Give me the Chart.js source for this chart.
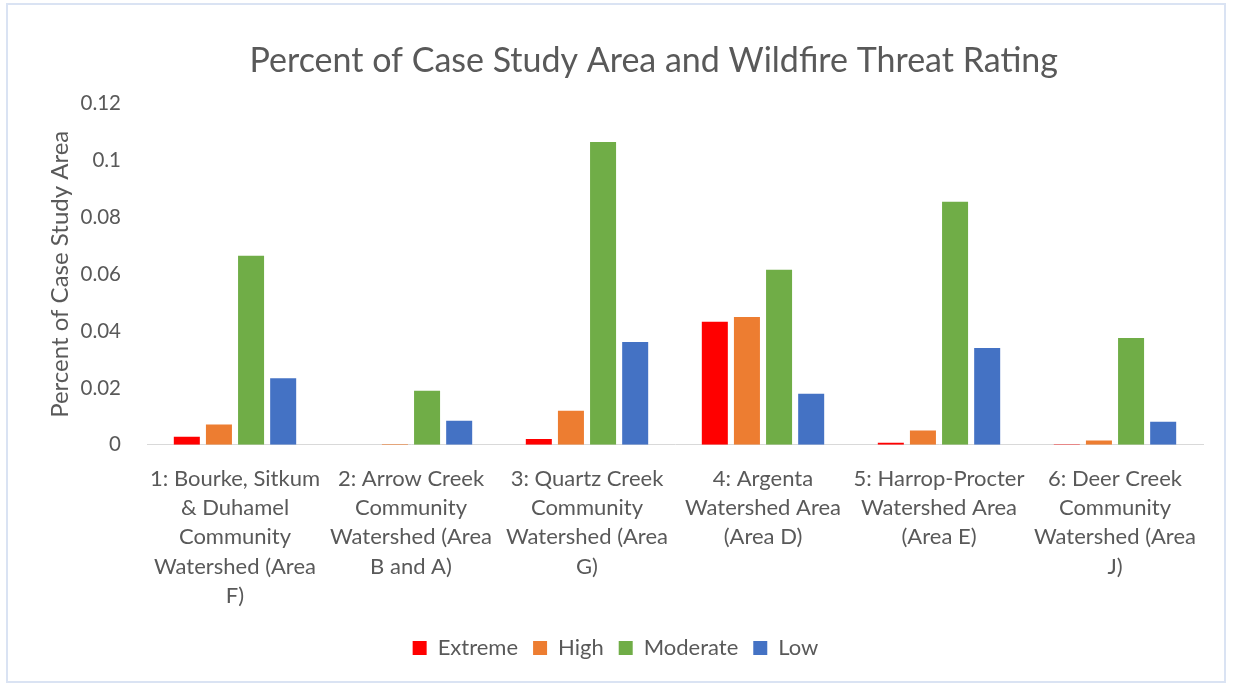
<!DOCTYPE html>
<html>
<head>
<meta charset="utf-8">
<script src="https://cdn.jsdelivr.net/npm/chart.js@4/dist/chart.umd.min.js"></script>
<style>
  html, body { margin: 0; padding: 0; background: #fff; }
  #frame {
    position: absolute; left: 6px; top: 3px;
    width: 1220px; height: 680px;
    border: 2px solid #dae3f3; box-sizing: border-box;
  }
  #wrap { position: absolute; left: 0; top: 0; right: 0; bottom: 0; }
</style>
</head>
<body>
<div id="frame"><div id="wrap"><canvas id="chart"></canvas></div></div>
<script>
// Wildfire threat rating by case study area

const categories = [
  ['1: Bourke, Sitkum', '& Duhamel', 'Community', 'Watershed (Area', 'F)'],
  ['2: Arrow Creek', 'Community', 'Watershed (Area', 'B and A)'],
  ['3: Quartz Creek', 'Community', 'Watershed (Area', 'G)'],
  ['4: Argenta', 'Watershed Area', '(Area D)'],
  ['5: Harrop-Procter', 'Watershed Area', '(Area E)'],
  ['6: Deer Creek', 'Community', 'Watershed (Area', 'J)'],
];

const extreme  = [0.0028, 0,      0.0020, 0.0433, 0.0007, 0.0002];
const high     = [0.0071, 0.0003, 0.0120, 0.0450, 0.0050, 0.0015];
const moderate = [0.0665, 0.0190, 0.1066, 0.0616, 0.0855, 0.0376];
const low      = [0.0234, 0.0085, 0.0362, 0.0180, 0.0341, 0.0081];

const yTickLabels = ['0', '0.02', '0.04', '0.06', '0.08', '0.1', '0.12'];

const textColor = '#595959';
const font = 'Lato, "Open Sans", sans-serif';

new Chart(document.getElementById('chart'), {
  type: 'bar',
  data: {
    labels: categories,
    datasets: [
      { label: 'Extreme',  data: extreme,  backgroundColor: '#ff0000' },
      { label: 'High',     data: high,     backgroundColor: '#ed7d31' },
      { label: 'Moderate', data: moderate, backgroundColor: '#70ad47' },
      { label: 'Low',      data: low,      backgroundColor: '#4472c4' },
    ]
  },
  options: {
    responsive: true,
    maintainAspectRatio: false,
    animation: false,
    datasets: { bar: { categoryPercentage: 0.73, barPercentage: 0.81 } },
    layout: { padding: { left: 20, right: 21, top: 14, bottom: 12 } },
    plugins: {
      title: {
        display: true,
        fullSize: false,
        // trailing spaces nudge the centred title left, as in the original
        text: 'Percent of Case Study Area and Wildfire Threat Rating\u2003\u2002',
        color: textColor,
        font: { family: font, size: 34, weight: 'normal' },
        padding: { top: 22, bottom: 22 }
      },
      legend: {
        position: 'bottom',
        labels: {
          color: textColor,
          font: { family: font, size: 22 },
          boxWidth: 14, boxHeight: 14, padding: 15
        }
      },
      tooltip: { enabled: false }
    },
    scales: {
      x: {
        grid: { display: false },
        border: { color: '#d9d9d9', width: 1 },
        ticks: {
          color: textColor,
          font: { family: font, size: 22, lineHeight: 1.32 },
          maxRotation: 0, autoSkip: false, padding: 12
        }
      },
      y: {
        min: 0, max: 0.12,
        grid: { display: false },
        border: { display: false },
        afterFit: (scale) => { scale.width = 119; },
        ticks: {
          stepSize: 0.02,
          color: textColor,
          font: { family: font, size: 20.5 },
          padding: 18,
          callback: (v, i) => yTickLabels[i]
        },
        title: {
          display: true,
          text: 'Percent of Case Study Area',
          color: textColor,
          font: { family: font, size: 24 },
          padding: { top: 18, bottom: 0 }
        }
      }
    }
  }
});
</script>
</body>
</html>
